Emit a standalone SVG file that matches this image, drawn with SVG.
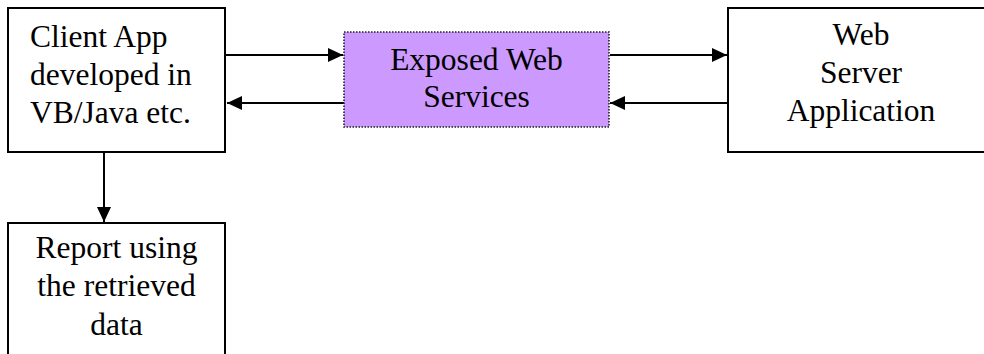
<svg xmlns="http://www.w3.org/2000/svg" width="984" height="354" viewBox="0 0 984 354">
<style>
.box{fill:#fff;stroke:#000;stroke-width:2}
.ws{fill:#cc99ff;stroke:#222;stroke-width:1.6;stroke-dasharray:1.5 1.5}
.t{font-family:"Liberation Serif","Times New Roman",serif;font-size:31.5px;fill:#000}
.c{text-anchor:middle}
.ln{stroke:#000;stroke-width:2;fill:none;marker-end:url(#ah)}
</style>
<defs>
<marker id="ah" markerUnits="userSpaceOnUse" markerWidth="16" markerHeight="14" refX="15" refY="7" orient="auto">
<path d="M0,0 L15,7 L0,14 Z" fill="#000"/>
</marker>
</defs>
<rect width="984" height="354" fill="#fff"/>
<g id="connectors">
<line class="ln" x1="226" y1="55" x2="343" y2="55"/>
<line class="ln" x1="344" y1="103" x2="227" y2="103"/>
<line class="ln" x1="610" y1="55" x2="727" y2="55"/>
<line class="ln" x1="728" y1="103" x2="610" y2="103"/>
<line class="ln" x1="104" y1="152" x2="104" y2="222"/>
</g>
<g id="client">
<rect class="box" x="8" y="8" width="217" height="144"/>
<text class="t" x="30" y="47">Client App</text>
<text class="t" x="30" y="85">developed in</text>
<text class="t" x="30" y="123">VB/Java etc.</text>
</g>
<g id="webservices">
<rect class="ws" x="344" y="32" width="265" height="95"/>
<text class="t c" x="476.5" y="70">Exposed Web</text>
<text class="t c" x="476.5" y="107">Services</text>
</g>
<g id="webserver">
<rect class="box" x="728" y="8" width="270" height="144"/>
<text class="t c" x="861" y="45">Web</text>
<text class="t c" x="861" y="83">Server</text>
<text class="t c" x="861" y="121">Application</text>
</g>
<g id="report">
<rect class="box" x="8" y="223" width="217" height="145"/>
<text class="t c" x="116.5" y="258">Report using</text>
<text class="t c" x="116.5" y="296">the retrieved</text>
<text class="t c" x="116.5" y="335">data</text>
</g>
</svg>
